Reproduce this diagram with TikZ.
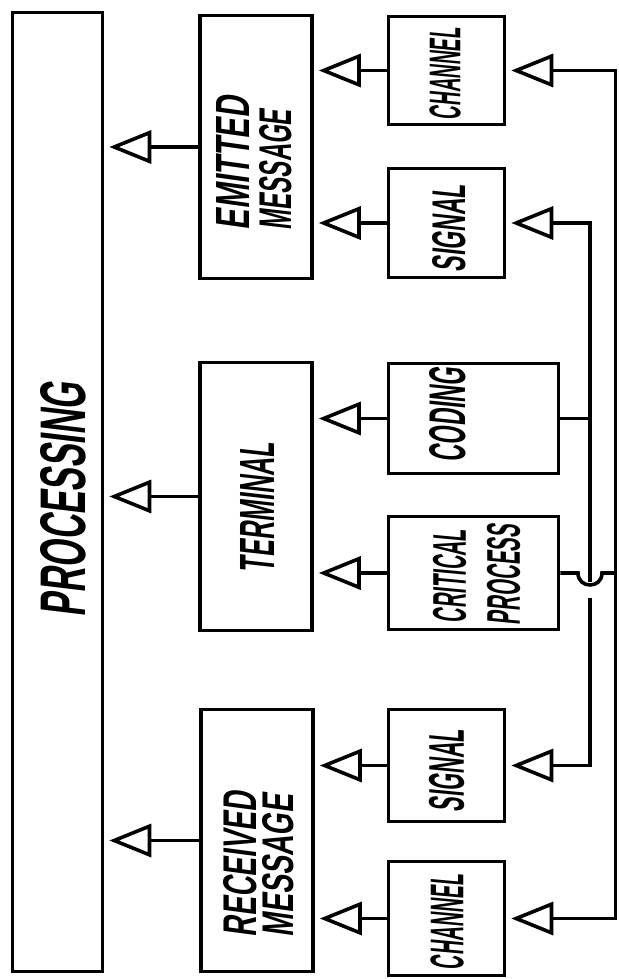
\documentclass[tikz,border=0pt]{standalone}
\usepackage{fontspec}
\usepackage{graphicx}
\usetikzlibrary{arrows.meta}
\newfontfamily\hand[FakeSlant=0.22]{Liberation Sans}
\newcommand{\lbl}[3]{\resizebox{#1pt}{#2pt}{\hand\bfseries #3}}
\begin{document}
\begin{tikzpicture}[x=1pt,y=-1pt,
  box/.style={draw,line width=3.6pt,inner sep=0pt},
  wire/.style={line width=3.6pt},
  arr/.style={line width=3.6pt,-{Triangle[open,length=42pt,width=33pt]},shorten >=5pt},
  txt/.style={rotate=90,inner sep=0pt}]
\useasboundingbox (0,0) rectangle (618,979);
% boxes
\node[box,minimum width=90pt,minimum height=959pt] (proc) at (57.5,492) {};
\node[box,minimum width=112pt,minimum height=263pt] (emit) at (256,147) {};
\node[box,minimum width=112pt,minimum height=268pt] (term) at (256,496.5) {};
\node[box,minimum width=112pt,minimum height=262pt] (recv) at (257,840.5) {};
\node[box,minimum width=116pt,minimum height=108pt] (ch1) at (446.5,70.5) {};
\node[box,minimum width=116pt,minimum height=109pt] (sig1) at (446.5,223) {};
\node[box,minimum width=170pt,minimum height=110pt] (cod) at (473.5,418.5) {};
\node[box,minimum width=170pt,minimum height=113pt] (crit) at (473.5,573) {};
\node[box,minimum width=116pt,minimum height=112pt] (sig2) at (446.5,765.5) {};
\node[box,minimum width=116pt,minimum height=114pt] (ch2) at (446.5,918.5) {};
% texts
\node[txt] (procT) at (63,500) {\lbl{234}{45}{PROCESSING}};
\node[txt] (emitT1) at (233,163.5) {\lbl{133}{33}{EMITTED}};
\node[txt] (emitT2) at (276,170) {\lbl{120}{32}{MESSAGE}};
\node[txt] (termT) at (257,508) {\lbl{130}{34}{TERMINAL}};
\node[txt] (recvT1) at (240,864.5) {\lbl{145}{33}{RECEIVED}};
\node[txt] (recvT2) at (278,866) {\lbl{142}{31}{MESSAGE}};
\node[txt] (ch1T) at (445,74) {\lbl{92}{31}{CHANNEL}};
\node[txt] (sig1T) at (449,228.5) {\lbl{87}{33}{SIGNAL}};
\node[txt] (codT) at (448,415) {\lbl{94}{36}{CODING}};
\node[txt] (critT1) at (449.5,576.5) {\lbl{93}{33}{CRITICAL}};
\node[txt] (critT2) at (503.5,575) {\lbl{100}{33}{PROCESS}};
\node[txt] (sig2T) at (446.5,771) {\lbl{82}{35}{SIGNAL}};
\node[txt] (ch2T) at (447,922.5) {\lbl{95}{33}{CHANNEL}};
% arrows into processing / messages
\draw[arr] (emit.west) -- (emit.west -| proc.east);
\draw[arr] (term.west) -- (term.west -| proc.east);
\draw[arr] (recv.west) -- (recv.west -| proc.east);
\draw[arr] (ch1.west) -- (ch1.west -| emit.east);
\draw[arr] (sig1.west) -- (sig1.west -| emit.east);
\draw[arr] (cod.west) -- (cod.west -| term.east);
\draw[arr] (crit.west) -- (crit.west -| term.east);
\draw[arr] (sig2.west) -- (sig2.west -| recv.east);
\draw[arr] (ch2.west) -- (ch2.west -| recv.east);
% buses
\coordinate (obus) at (615.5,0);
\coordinate (ibus) at (590,0);
\coordinate (hopTop) at (590,580);
\coordinate (hopBot) at (590,600);
\draw[arr] (ch1.east -| obus) -- (ch1.east);
\draw[arr] (ch2.east -| obus) -- (ch2.east);
\draw[wire,line cap=rect] (ch1.east -| obus) -- (ch2.east -| obus);
\draw[arr] (sig1.east -| ibus) -- (sig1.east);
\draw[arr] (sig2.east -| ibus) -- (sig2.east);
\draw[wire,line cap=rect] (sig1.east -| ibus) -- (hopTop);
\draw[wire,line cap=rect] (hopBot) -- (sig2.east -| ibus);
\draw[wire] (cod.east) -- (cod.east -| ibus);
\draw[wire] (crit.east) -- (578,573) .. controls (578,589) and (602,589) .. (602,573) -- (crit.east -| obus);
\end{tikzpicture}
\end{document}
